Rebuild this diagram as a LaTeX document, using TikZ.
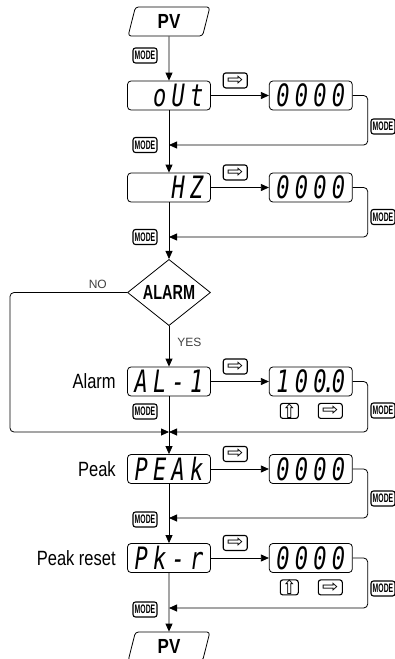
\documentclass[tikz,border=0pt]{standalone}
\usepackage{fontspec}
\setmainfont{Liberation Sans}
\newfontfamily\segfont{DejaVu Sans Mono}
\newfontfamily\symfont{DejaVu Sans}
\usetikzlibrary{arrows.meta,positioning,shapes.geometric}

\newcommand{\dg}[1]{\makebox[18.5pt]{#1}}
\newcommand{\seg}[1]{\scalebox{1}[1.4]{\segfont\itshape\fontsize{22}{22}\selectfont#1}}
\newcommand{\rkey}{\scalebox{1.3}[1.15]{⇨}}
\newcommand{\ukey}{\scalebox{1.15}[1.3]{⇧}}

\begin{document}
\begin{tikzpicture}[x=1pt,y=-1pt,line width=0.8pt,
  disp/.style={draw,rounded corners=3.5pt,minimum width=83pt,minimum height=29pt,inner sep=0pt},
  pvbox/.style={draw,trapezium,trapezium left angle=80,trapezium right angle=100,trapezium stretches=true,
                rounded corners=3pt,minimum width=82pt,minimum height=29pt,inner sep=0pt,
                font=\bfseries\fontsize{17}{17}\selectfont},
  btn/.style={draw,line width=1.1pt,rounded corners=2.5pt,minimum width=24pt,minimum height=15pt,inner sep=0pt,
              font=\symfont\fontsize{15}{15}\selectfont},
  modekey/.style={btn,font=\bfseries\fontsize{9.5}{9.5}\selectfont},
  arr/.style={-{Triangle[length=8pt,width=7pt]}},
  ann/.style={inner sep=0pt,font=\fontsize{16.5}{16.5}\selectfont},
  yn/.style={inner sep=0pt,text=black!75,font=\fontsize{12}{12}\selectfont}
]
\useasboundingbox (0,0) rectangle (395,659);

% main column
\node[pvbox] (pvtop) at (169,21.5) {\scalebox{1}[1.2]{PV}};
\node[disp] (outbox) at (169,95.5) {\seg{\dg{}\dg{o}\dg{U}\dg{t}}};
\node[disp,right=58pt of outbox] (outval) {\seg{\dg{0}\dg{0}\dg{0}\dg{0}}};
\node[disp] (hzbox) at (169,187.5) {\seg{\dg{}\dg{}\dg{H}\dg{Z}}};
\node[disp,right=58pt of hzbox] (hzval) {\seg{\dg{0}\dg{0}\dg{0}\dg{0}}};
\node[draw,diamond,minimum width=83pt,minimum height=60pt,inner sep=0pt] (alarm) at (169,292.5)
  {\bfseries\fontsize{17}{17}\selectfont\scalebox{0.85}[1.2]{ALARM}};
\node[disp] (albox) at (169,381.5) {\seg{\dg{A}\dg{L}\dg{-}\dg{1}}};
\node[disp,right=58pt of albox] (alval) {\seg{\dg{1}\dg{0}\dg{0}\makebox[0pt]{.}\dg{0}}};
\node[disp] (peakbox) at (169,469) {\seg{\dg{P}\dg{E}\dg{A}\dg{k}}};
\node[disp,right=58pt of peakbox] (peakval) {\seg{\dg{0}\dg{0}\dg{0}\dg{0}}};
\node[disp] (pkrbox) at (169,558) {\seg{\dg{P}\dg{k}\dg{-}\dg{r}}};
\node[disp,right=58pt of pkrbox] (pkrval) {\seg{\dg{0}\dg{0}\dg{0}\dg{0}}};
\node[pvbox] (pvend) at (169,646.5) {\scalebox{1}[1.2]{PV}};

\node[ann,left=11pt of albox] (allbl) {\scalebox{1}[1.25]{Alarm}};
\node[ann,left=11pt of peakbox] (peaklbl) {\scalebox{1}[1.25]{Peak}};
\node[ann,left=11pt of pkrbox] (pkrlbl) {\scalebox{1}[1.25]{Peak reset}};

% join points
\coordinate (outret) at (169,145);
\coordinate (hzret) at (169,237);
\coordinate (alret) at (169,432);
\coordinate (peakret) at (169,518);
\coordinate (pkrret) at (169,608);
\coordinate (noleft) at (10,292.5);

\draw[arr] (pvtop) -- (outbox);
\draw[arr] (outbox) -- (hzbox);
\draw[arr] (hzbox) -- (alarm);
\draw[arr] (alarm) -- node[yn,right=8pt,pos=0.4] (yes) {YES} (albox);
\draw[arr] (albox) -- (peakbox);
\draw[arr] (peakbox) -- (pkrbox);
\draw[arr] (pkrbox) -- (pvend);
\draw[arr,rounded corners=4pt] (alarm.west) -- node[yn,above=3pt,pos=0.25] (no) {NO} (noleft) |- (alret);

% shift key into the value
\draw[arr] (outbox) -- node[btn,pos=0.42,above=7pt] (outnext) {\rkey} (outval);
\draw[arr] (hzbox) -- node[btn,pos=0.42,above=7pt] (hznext) {\rkey} (hzval);
\draw[arr] (albox) -- node[btn,pos=0.42,above=7pt] (alnext) {\rkey} (alval);
\draw[arr] (peakbox) -- node[btn,pos=0.42,above=7pt] (peaknext) {\rkey} (peakval);
\draw[arr] (pkrbox) -- node[btn,pos=0.42,above=7pt] (pkrnext) {\rkey} (pkrval);

% back to the column
\draw[arr,rounded corners=4pt] (outval.east) -- ++(15,0) |- (outret);
\draw[arr,rounded corners=4pt] (hzval.east) -- ++(15,0) |- (hzret);
\draw[arr,rounded corners=4pt] (alval.east) -- ++(15,0) |- (alret);
\draw[arr,rounded corners=4pt] (peakval.east) -- ++(15,0) |- (peakret);
\draw[arr,rounded corners=4pt] (pkrval.east) -- ++(15,0) |- (pkrret);

% edit keys
\node[btn,minimum width=18pt] (alup) at ([xshift=-21.5pt,yshift=-14.5pt]alval.south) {\ukey};
\node[btn] (alshift) at ([xshift=19.5pt,yshift=-14.5pt]alval.south) {\rkey};
\node[btn,minimum width=18pt] (pkrup) at ([xshift=-21.5pt,yshift=-14.5pt]pkrval.south) {\ukey};
\node[btn] (pkrshift) at ([xshift=19.5pt,yshift=-14.5pt]pkrval.south) {\rkey};

% MODE keys
\foreach \y [count=\i] in {55.5,145,237,411.5,519.5,609.5}
  \node[modekey] (ml\i) at (145,\y) {\scalebox{0.72}[1.3]{MODE}};
\foreach \y [count=\i] in {126.5,217,410.5,498.5,588.5}
  \node[modekey] (mr\i) at (383,\y) {\scalebox{0.72}[1.3]{MODE}};
\end{tikzpicture}
\end{document}
